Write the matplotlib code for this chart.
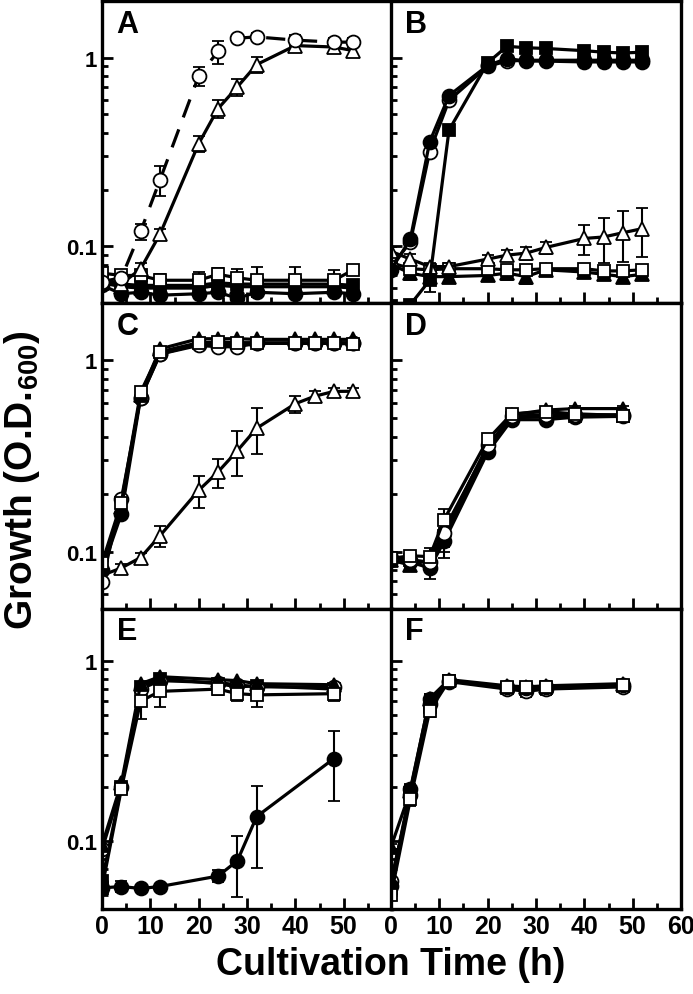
import numpy as np
import matplotlib.pyplot as plt
from matplotlib.ticker import FixedLocator, LogLocator, NullFormatter

plt.rcParams['font.family'] = ['Liberation Sans', 'DejaVu Sans']
plt.rcParams['font.weight'] = 'bold'
plt.rcParams['mathtext.fontset'] = 'custom'
plt.rcParams['mathtext.rm'] = 'Liberation Sans:bold'
plt.rcParams['mathtext.bf'] = 'Liberation Sans:bold'

# ---- data (time in h, O.D.600) ----
t_a = [0, 4, 8, 12, 20, 24, 28, 32, 40, 48, 52]
a_oc = [0.065, 0.068, 0.12, 0.225, 0.80, 1.08, 1.27, 1.29, 1.24, 1.21, 1.21]
a_oc_err = [0.003, 0.004, 0.012, 0.04, 0.09, 0.15, 0.05, 0.07, 0.08, 0.07, 0.07]
a_ot = [0.065, 0.063, 0.076, 0.116, 0.35, 0.537, 0.70, 0.92, 1.16, 1.14, 1.09]
a_ot_err = [0.003, 0.004, 0.006, 0.008, 0.035, 0.06, 0.07, 0.09, 0.06, 0.06, 0.05]
a_os = [0.072, 0.070, 0.070, 0.066, 0.066, 0.071, 0.068, 0.066, 0.066, 0.066, 0.075]
a_os_err = [0.004, 0.005, 0.005, 0.005, 0.007, 0.006, 0.008, 0.012, 0.012, 0.009, 0.004]
a_fs = [0.066, 0.063, 0.062, 0.062, 0.062, 0.064, 0.063, 0.063, 0.063, 0.063, 0.062]
a_ft = [0.064, 0.061, 0.060, 0.060, 0.060, 0.062, 0.061, 0.061, 0.061, 0.061, 0.060]
a_fc = [0.062, 0.056, 0.057, 0.055, 0.056, 0.057, 0.053, 0.057, 0.056, 0.057, 0.056]

t_b = [0, 4, 8, 12, 20, 24, 28, 32, 40, 44, 48, 52]
b_fc = [0.075, 0.109, 0.358, 0.63, 0.91, 0.99, 0.96, 0.96, 0.95, 0.95, 0.95, 0.95]
b_oc = [0.078, 0.105, 0.318, 0.594, 0.90, 0.96, 0.97, 0.97, 0.97, 0.97, 0.97, 0.97]
b_fs = [0.048, 0.049, 0.066, 0.413, 0.94, 1.15, 1.13, 1.12, 1.09, 1.07, 1.06, 1.07]
b_fs_err = [0.002, 0.002, 0.009, 0.01, 0.03, 0.04, 0.03, 0.03, 0.03, 0.03, 0.03, 0.03]
b_ot = [0.094, 0.0855, 0.078, 0.078, 0.0855, 0.0897, 0.092, 0.0985, 0.11, 0.112, 0.118, 0.124]
b_ot_err = [0.005, 0.005, 0.004, 0.004, 0.004, 0.006, 0.007, 0.007, 0.02, 0.03, 0.035, 0.036]
b_os = [0.082, 0.076, 0.075, 0.076, 0.076, 0.075, 0.075, 0.076, 0.076, 0.074, 0.074, 0.075]
b_ft = [0.080, 0.072, 0.069, 0.069, 0.070, 0.072, 0.069, 0.075, 0.073, 0.071, 0.069, 0.071]
b_ft_err = [0.003, 0.006, 0.005, 0.005, 0.004, 0.006, 0.006, 0.003, 0.004, 0.004, 0.004, 0.003]

t_c = [0, 4, 8, 12, 20, 24, 28, 32, 40, 44, 48, 52]
c_os = [0.087, 0.18, 0.684, 1.11, 1.24, 1.25, 1.24, 1.24, 1.23, 1.23, 1.23, 1.22]
c_oc = [0.069, 0.188, 0.64, 1.08, 1.20, 1.18, 1.18, 1.23, 1.24, 1.24, 1.24, 1.24]
c_fc = [0.080, 0.157, 0.64, 1.08, 1.22, 1.22, 1.21, 1.23, 1.23, 1.23, 1.23, 1.23]
c_ft = [0.085, 0.17, 0.66, 1.15, 1.30, 1.30, 1.30, 1.29, 1.29, 1.29, 1.29, 1.29]
c_ot = [0.075, 0.082, 0.093, 0.121, 0.209, 0.261, 0.337, 0.442, 0.594, 0.65, 0.689, 0.69]
c_ot_err = [0.003, 0.004, 0.005, 0.015, 0.04, 0.045, 0.09, 0.12, 0.06, 0.04, 0.03, 0.03]

t_d = [0, 4, 8, 11, 20, 25, 32, 38, 48]
d_os = [0.092, 0.095, 0.094, 0.147, 0.386, 0.526, 0.54, 0.526, 0.515]
d_fc = [0.090, 0.088, 0.082, 0.113, 0.331, 0.49, 0.49, 0.505, 0.51]
d_ft = [0.090, 0.085, 0.090, 0.13, 0.35, 0.52, 0.55, 0.56, 0.56]
d_oc = [0.092, 0.090, 0.088, 0.125, 0.36, 0.51, 0.52, 0.52, 0.52]
d_fs = [0.091, 0.090, 0.088, 0.12, 0.34, 0.50, 0.51, 0.51, 0.51]
d_err = [0.005, 0.005, 0.01, 0.02, 0.02, 0.02, 0.02, 0.02, 0.02]

t_e = [0, 4, 8, 12, 24, 28, 32, 48]
e_fc = [0.055, 0.056, 0.0546, 0.056, 0.064, 0.0778, 0.137, 0.288]
e_fc_err = [0.002, 0.004, 0.002, 0.002, 0.005, 0.029, 0.066, 0.12]
e_os = [0.055, 0.195, 0.60, 0.68, 0.70, 0.66, 0.65, 0.66]
e_os_err = [0.003, 0.01, 0.12, 0.12, 0.05, 0.06, 0.09, 0.06]
e_ft = [0.095, 0.21, 0.75, 0.82, 0.79, 0.78, 0.75, 0.74]
e_oc = [0.090, 0.20, 0.70, 0.78, 0.76, 0.74, 0.72, 0.72]
e_fs = [0.060, 0.20, 0.72, 0.80, 0.75, 0.72, 0.73, 0.70]

t_f = [0, 4, 8, 12, 24, 28, 32, 48]
f_fc = [0.0565, 0.194, 0.615, 0.78, 0.72, 0.71, 0.72, 0.736]
f_os = [0.050, 0.171, 0.53, 0.78, 0.72, 0.72, 0.72, 0.74]
f_ft = [0.093, 0.19, 0.62, 0.79, 0.73, 0.72, 0.73, 0.75]
f_oc = [0.060, 0.18, 0.58, 0.77, 0.70, 0.68, 0.70, 0.72]
f_fs = [0.055, 0.185, 0.56, 0.78, 0.71, 0.70, 0.71, 0.73]
f_err = [0.003, 0.015, 0.04, 0.05, 0.04, 0.05, 0.05, 0.04]

x_major = [0, 10, 20, 30, 40, 50, 60]
x_minor = [5, 15, 25, 35, 45, 55]

# marker styles
styles = {
    'fc': dict(marker='o', mfc='black'),
    'oc': dict(marker='o', mfc='white'),
    'fs': dict(marker='s', mfc='black'),
    'os': dict(marker='s', mfc='white'),
    'ft': dict(marker='^', mfc='black'),
    'ot': dict(marker='^', mfc='white'),
}


def series(ax, t, y, kind, err=None, ls='-'):
    st = styles[kind]
    ax.errorbar(t, y, yerr=err, color='black', lw=2.3, ls=ls,
                marker=st['marker'], mfc=st['mfc'], mec='black', mew=1.3,
                ms=10 if st['marker'] != 's' else 9,
                elinewidth=1.5, capsize=4, capthick=1.5)


fig = plt.figure(figsize=(6.93, 9.95), dpi=100)
lefts = [102 / 693, 391 / 693]
w = 290 / 693
rows = [(2, 304), (304, 610), (610, 910)]
axes = []
for r, (y0, y1) in enumerate(rows):
    for c in range(2):
        ax = fig.add_axes([lefts[c], 1 - y1 / 995, w, (y1 - y0) / 995])
        axes.append(ax)

axA, axB, axC, axD, axE, axF = axes

# A
series(axA, t_a, a_fc, 'fc')
series(axA, t_a, a_ft, 'ft')
series(axA, t_a, a_fs, 'fs')
series(axA, t_a, a_os, 'os', a_os_err)
series(axA, t_a, a_ot, 'ot', a_ot_err)
series(axA, t_a, a_oc, 'oc', a_oc_err, ls=(0, (6, 4)))

# B
series(axB, t_b, b_ft, 'ft', b_ft_err)
series(axB, t_b, b_os, 'os')
series(axB, t_b, b_ot, 'ot', b_ot_err)
series(axB, t_b, b_oc, 'oc')
series(axB, t_b, b_fc, 'fc')
series(axB, t_b, b_fs, 'fs', b_fs_err)

# C
series(axC, t_c, c_ot, 'ot', c_ot_err)
series(axC, t_c, c_fc, 'fc')
series(axC, t_c, c_oc, 'oc')
series(axC, t_c, c_ft, 'ft')
series(axC, t_c, c_os, 'os')

# D
series(axD, t_d, d_ft, 'ft', d_err)
series(axD, t_d, d_fc, 'fc', d_err)
series(axD, t_d, d_fs, 'fs', d_err)
series(axD, t_d, d_oc, 'oc', d_err)
series(axD, t_d, d_os, 'os', d_err)

# E
series(axE, t_e, e_fs, 'fs')
series(axE, t_e, e_oc, 'oc')
series(axE, t_e, e_ft, 'ft')
series(axE, t_e, e_os, 'os', e_os_err)
series(axE, t_e, e_fc, 'fc', e_fc_err)

# F
series(axF, t_f, f_fs, 'fs', f_err)
series(axF, t_f, f_oc, 'oc', f_err)
series(axF, t_f, f_ft, 'ft', f_err)
series(axF, t_f, f_fc, 'fc', f_err)
series(axF, t_f, f_os, 'os', f_err)

letters = 'ABCDEF'
for i, ax in enumerate(axes):
    row, col = divmod(i, 2)
    ax.set_yscale('log')
    ax.set_ylim(0.042 if row == 2 else 0.05, 1.95 if row == 2 else 2.0)
    ax.set_xlim(0, 60)
    ax.xaxis.set_major_locator(FixedLocator(x_major))
    ax.xaxis.set_minor_locator(FixedLocator(x_minor))
    ax.yaxis.set_major_locator(FixedLocator([0.1, 1]))
    ax.yaxis.set_minor_locator(LogLocator(base=10, subs=np.arange(2, 10)))
    ax.yaxis.set_minor_formatter(NullFormatter())
    ax.tick_params(which='both', direction='in', top=False, right=False, width=2)
    ax.tick_params(which='major', length=8)
    ax.tick_params(which='minor', length=4)
    for sp in ax.spines.values():
        sp.set_linewidth(2.4)
    if col == 0:
        ax.set_yticklabels(['0.1', '1'], fontsize=16, fontweight='bold')
    else:
        ax.set_yticklabels([])
    if row == 2:
        labs = [str(v) for v in x_major]
        if col == 0:
            labs[-1] = ''
        ax.set_xticklabels(labs, fontsize=18, fontweight='bold')
    else:
        ax.set_xticklabels([])
    ax.text(0.05, 0.975, letters[i], transform=ax.transAxes, ha='left', va='top',
            fontsize=22, fontweight='bold')

fig.text(391 / 693, 1 - 965 / 995, 'Cultivation Time (h)', ha='center', va='center',
         fontsize=27, fontweight='bold')
fig.text(22 / 693, 1 - 480 / 995, r'Growth (O.D.$_{\mathbf{600}}$)', ha='center', va='center',
         rotation=90, fontsize=28, fontweight='bold')

fig.savefig('out.png', dpi=100)
